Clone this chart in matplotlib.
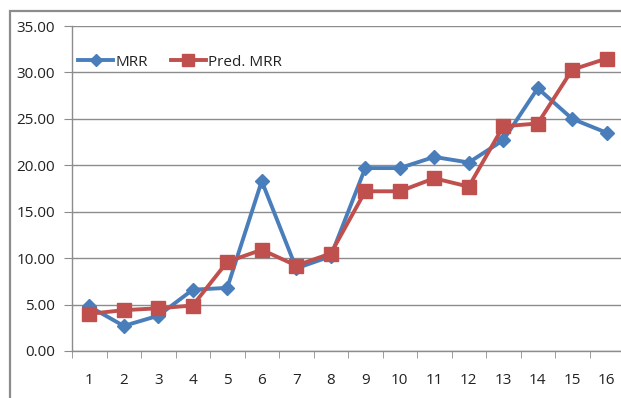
import matplotlib
matplotlib.use('Agg')
import matplotlib.pyplot as plt
from matplotlib.patches import Rectangle

runs = list(range(1, 17))
mrr = [4.8, 2.7, 3.8, 6.6, 6.8, 18.3, 8.9, 10.2, 19.7, 19.7, 20.9, 20.3, 22.7, 28.3, 25.0, 23.5]
pred_mrr = [4.0, 4.4, 4.6, 4.9, 9.6, 10.9, 9.2, 10.5, 17.2, 17.2, 18.6, 17.7, 24.2, 24.5, 30.3, 31.5]
y_ticks = [0, 5, 10, 15, 20, 25, 30, 35]

plt.rcParams['font.family'] = ['Open Sans', 'DejaVu Sans']

W, H = 621, 398
fig = plt.figure(figsize=(W / 100, H / 100), dpi=100)
fig.patch.set_facecolor('white')

# chart frame, cut by the page edges on the right and bottom
fig.patches.append(Rectangle((10 / W, -0.2), 1.2, 1.2 - 11 / H,
                             transform=fig.transFigure, fill=False,
                             edgecolor='#8c8c8c', linewidth=1.6, clip_on=False))

ax = fig.add_axes([72 / W, 1 - 351 / H, 552 / W, 325 / H])
ax.set_xlim(0.5, 16.5)
ax.set_ylim(0, 35)

blue = '#4a7ebb'
red = '#c0504d'
ax.plot(runs, mrr, color=blue, linewidth=2.8, marker='D', markersize=7,
        label='MRR', zorder=3)
ax.plot(runs, pred_mrr, color=red, linewidth=2.8, marker='s', markersize=10,
        label='Pred. MRR', zorder=3)

ax.set_yticks(y_ticks)
ax.set_yticklabels(['%.2f' % v for v in y_ticks])
ax.set_xticks(runs)
ax.set_xticklabels([str(r) for r in runs])
ax.set_xticks([r + 0.5 for r in range(0, 17)], minor=True)
ax.grid(axis='y', color='#8c8c8c', linewidth=1.0)
ax.set_axisbelow(True)

for side in ['top', 'right']:
    ax.spines[side].set_visible(False)
for side in ['left', 'bottom']:
    ax.spines[side].set_color('#8c8c8c')
    ax.spines[side].set_linewidth(1.0)

ax.tick_params(axis='y', length=6, color='#8c8c8c', labelsize=11, pad=6,
               labelcolor='#222222')
ax.tick_params(axis='x', which='major', length=0, labelsize=11, pad=16,
               labelcolor='#222222')
ax.tick_params(axis='x', which='minor', length=5, color='#8c8c8c')

leg = ax.legend(loc='center left', bbox_to_anchor=(0.011, 0.889), ncol=2,
                frameon=False, fontsize=11, handlelength=2.3,
                handletextpad=0.15, columnspacing=1.5, borderpad=0,
                borderaxespad=0, markerscale=0.85)
for t in leg.get_texts():
    t.set_color('#222222')

fig.savefig('out.png', dpi=100)
